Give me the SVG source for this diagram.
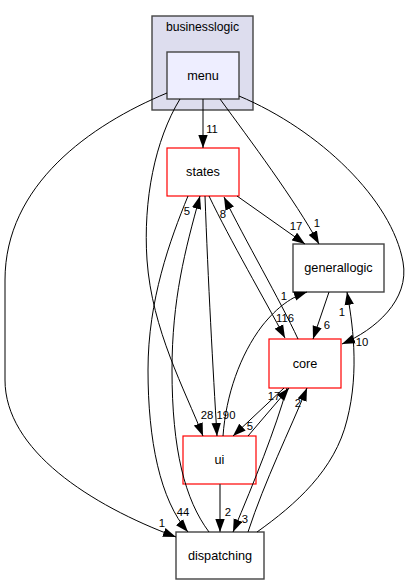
<svg xmlns="http://www.w3.org/2000/svg" width="408" height="585" viewBox="0 0 408 585">
<defs>
<marker id="ah" markerWidth="13" markerHeight="10" refX="13" refY="5" orient="auto" markerUnits="userSpaceOnUse"><path d="M0,0.3 L13,5 L0,9.7 z" fill="#000"/></marker>
<style>
text{font-family:"Liberation Sans",Arial,sans-serif;fill:#000}
.nl{font-size:12.7px;text-anchor:middle}
.el{font-size:11.3px;text-anchor:middle}
.e{fill:none;stroke:#000;stroke-width:1;marker-end:url(#ah)}
.red{fill:#fff;stroke:#f00;stroke-width:1.2}
.gry{fill:#fff;stroke:#444;stroke-width:1.4}
</style>
</defs>
<rect width="408" height="585" fill="#fff"/>
<g id="cluster_businesslogic">
<rect x="152" y="16" width="101" height="94" fill="#ddddee" stroke="#444" stroke-width="1.4"/>
<text x="202.5" y="31" class="nl" style="font-size:12.2px">businesslogic</text>
</g>
<g id="menu">
<rect x="167" y="52" width="72" height="47" fill="#eeeeff" stroke="#444" stroke-width="1.4"/>
<text x="203" y="79.5" class="nl">menu</text>
</g>
<g id="states">
<rect x="167" y="148" width="72" height="48" class="red"/>
<text x="203" y="176" class="nl">states</text>
</g>
<g id="generallogic">
<rect x="293" y="244" width="91" height="48" class="gry"/>
<text x="338.5" y="272" class="nl">generallogic</text>
</g>
<g id="core">
<rect x="269" y="339" width="72" height="49" class="red"/>
<text x="305" y="367.5" class="nl">core</text>
</g>
<g id="ui">
<rect x="183" y="436" width="73" height="48" class="red"/>
<text x="219.5" y="464" class="nl">ui</text>
</g>
<g id="dispatching">
<rect x="176" y="532" width="88" height="47" class="gry"/>
<text x="220" y="559.5" class="nl">dispatching</text>
</g>
<g id="connectors">
<path class="e" d="M203,99 L203,148"/>
<path class="e" d="M220,99 C250,140 295,200 319,244"/>
<path class="e" d="M239,96 C320,130 392,200 403,262 C410,300 375,330 342,344"/>
<path class="e" d="M167,93 C90,125 5,185 5,280 L5,380 C5,450 90,505 176,537"/>
<path class="e" d="M180,99 C155,140 143,200 147,260 C152,330 185,390 203,436"/>
<path class="e" d="M237,196 L305,244"/>
<path class="e" d="M209,196 C230,240 265,300 285,338"/>
<path class="e" d="M298,339 C280,300 245,240 224,197"/>
<path class="e" d="M205,196 C208,280 213,370 217,436"/>
<path class="e" d="M188,196 C170,240 148,300 148,370 C148,440 160,500 188,532"/>
<path class="e" d="M209,532 C185,500 172,450 172,370 C172,300 185,250 200,196"/>
<path class="e" d="M223,436 C226,395 240,355 262,326 C278,306 292,297 307,292"/>
<path class="e" d="M329,292 L313,339"/>
<path class="e" d="M257,532 C295,505 335,470 347,420 C360,370 352,320 347,292"/>
<path class="e" d="M248,436 L289,388"/>
<path class="e" d="M284,388 L233,436"/>
<path class="e" d="M287,388 C275,430 255,480 233,532"/>
<path class="e" d="M248,532 C265,480 290,430 307,388"/>
<path class="e" style="stroke:#444;stroke-width:1.4" d="M220,484 L220,532"/>
<g class="labels">
<text class="el" x="212" y="133">11</text>
<text class="el" x="317" y="227">1</text>
<text class="el" x="296" y="230">17</text>
<text class="el" x="187" y="215">5</text>
<text class="el" x="223" y="218">8</text>
<text class="el" x="285" y="322">116</text>
<text class="el" x="284" y="300">1</text>
<text class="el" x="327" y="329">6</text>
<text class="el" x="342" y="316">1</text>
<text class="el" x="362" y="346">10</text>
<text class="el" x="207" y="419">28</text>
<text class="el" x="226" y="419">190</text>
<text class="el" x="274" y="400">17</text>
<text class="el" x="250" y="430">5</text>
<text class="el" x="298" y="407">2</text>
<text class="el" x="183" y="516">44</text>
<text class="el" x="162" y="527">1</text>
<text class="el" x="228" y="516">2</text>
<text class="el" x="245" y="523">3</text>
</g>
</g>
</svg>
